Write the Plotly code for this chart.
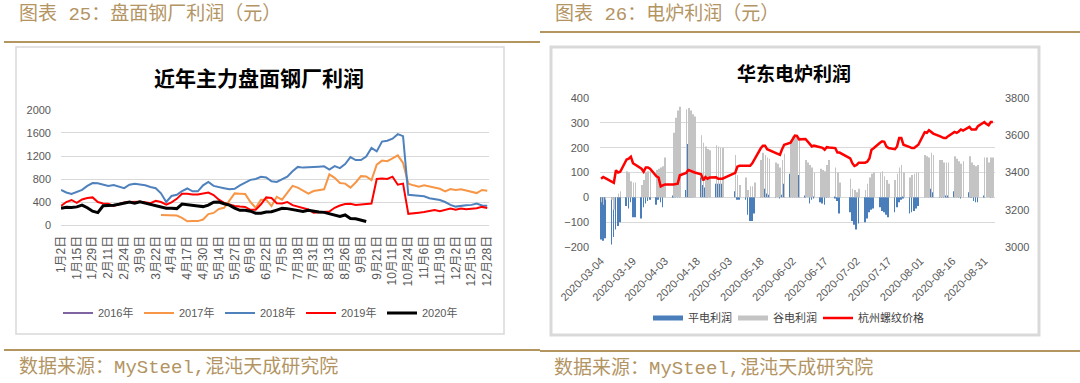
import pandas as pd
import plotly.graph_objects as go

W, H = 1080, 383


def fx(p):
    return p / W


def fy(p):
    return 1 - p / H


# ================= 图表25 盘面钢厂利润 =================
steel_tick_labels = ["1月2日", "1月15日", "1月29日", "2月11日", "2月24日", "3月9日", "3月22日",
                     "4月4日", "4月17日", "4月30日", "5月14日", "5月27日", "6月9日", "6月22日",
                     "7月5日", "7月18日", "7月31日", "8月13日", "8月26日", "9月8日", "9月21日",
                     "10月11日", "10月24日", "11月6日", "11月19日", "12月2日", "12月15日", "12月28日"]
LABEL_EVERY = 9      # trading days between two axis labels
STEP = 3             # values below are read every 3 trading days
start_2017 = 57      # 2017 series starts at this trading day

profit_2016 = [None]
profit_2017 = [174, 172, 172, 165, 125, 65, 70, 68, 95, 190,
               210, 280, 300, 420, 550, 545, 540, 400, 300, 440,
               440, 330, 490, 440, 560, 680, 650, 600, 545, 590,
               605, 620, 880, 820, 730, 720, 650, 740, 850, 845,
               780, 1050, 1120, 1110, 1160, 1210, 1080, 720, 690, 665,
               690, 670, 650, 630, 585, 625, 610, 620, 600, 575,
               555, 610, 595]
profit_2018 = [609, 565, 540, 580, 612, 680, 730, 726, 698, 680,
               695, 665, 640, 700, 718, 705, 690, 660, 640, 551,
               400, 505, 525, 590, 635, 585, 585, 690, 750, 680,
               665, 640, 620, 630, 690, 745, 785, 800, 838, 825,
               760, 750, 795, 840, 935, 1010, 998, 1000, 1010, 1015,
               1020, 965, 1025, 990, 1060, 1180, 1130, 1130, 1190, 1340,
               1280, 1450, 1465, 1500, 1580, 1545, 525, 520, 515, 500,
               465, 445, 435, 400, 350, 320, 335, 345, 350, 375,
               340, 335]
profit_2019 = [330, 400, 435, 385, 445, 470, 480, 400, 375, 372,
               330, 360, 390, 400, 405, 405, 395, 380, 420, 400,
               355, 395, 455, 545, 545, 530, 530, 550, 565, 520,
               440, 385, 355, 330, 320, 315, 265, 265, 360, 480,
               470, 380, 375, 400, 345, 320, 295, 270, 215, 220,
               230, 235, 300, 340, 365, 370, 350, 360, 365, 375,
               800, 810, 800, 840, 700, 720, 195, 210, 215, 225,
               240, 260, 240, 265, 285, 265, 285, 275, 285, 290,
               315, 295]
profit_2020 = [290, 310, 305, 315, 345, 300, 240, 215, 335, 335,
               345, 360, 385, 400, 380, 405, 380, 355, 330, 305,
               290, 290, 285, 365, 350, 335, 330, 320, 345, 395,
               400, 370, 345, 295, 255, 255, 240, 205, 205, 225,
               230, 260, 290, 285, 270, 245, 235, 255, 235, 228,
               220, 200, 170, 150, 175, 115, 110, 85, 60]

# ================= 图表26 电炉利润 =================
market_holidays = ["2020-04-06", "2020-05-01", "2020-05-04", "2020-05-05",
                   "2020-06-25", "2020-06-26"]
eaf_dates = pd.bdate_range("2020-03-04", "2020-09-04", freq="C", holidays=market_holidays)

flat_profit = [  # 平电利润
    -170, -175, -165, -190, -160, -130, -115, -100, -35, -45, -20, -80, -80, -85, -40, -25, -15, -10, -30, -10,
    -20, -40, 0, 5, 150, 215, 120, 30, 215, 170, 120, 60, 80, 50, 40, 60, 45, 55, 55, 55, 55,
    25, -10, -10, -10, -70, -95, -95, -65, 15, 35, 35, 15, 10, 5, 0, -5, 10, 55,
    95, 80, 95, 95, 90, 5, 0, -25, -10, -5, -20, -25, -30, 5, 10, -5, -15, -65, -60, -95,
    -110, -130, -105, -100, -85, -60, -50, -45, -40, -55, -60, -70, -80, -60, -40, -20, -10, -5,
    -65, -60, -55, -45, -35,
    25, 20, 15, 35, 20, 5, 5, 5, 5, 5, 25, 10, 5, -5, 0, 20, 5, -15, -20, -20, 5,
    0, 0, 5, 15]
valley_profit = [  # 谷电利润
    -20, -30, -10, -10, -50, 0, 15, 25, 105, 100, 65, 60, 60, 50, 70, 100, 105, 105, 110, 115,
    120, 125, 160, 260, 320, 350, 365, 355, 360, 350, 335, 325, 250, 220, 205, 195, 190, 210, 205, 200, 200,
    170, 90, 50, 80, 30, 45, 45, 60, 150, 180, 170, 160, 155, 140, 135, 120, 150, 175,
    230, 245, 250, 245, 240, 150, 140, 130, 120, 100, 115, 110, 105, 130, 150, 120, 100, 60, 75, 35,
    30, 20, 35, 30, 55, 80, 95, 100, 100, 105, 85, 70, 55, 70, 95, 120, 130, 100,
    80, 90, 95, 100, 100,
    170, 165, 160, 180, 170, 150, 150, 140, 140, 140, 165, 155, 145, 135, 145, 165, 140, 130, 125, 130, 160,
    160, 140, 160, 160]
rebar_price = [  # 杭州螺纹价格
    3367, 3376, 3370, 3349, 3345, 3412, 3400, 3404, 3470, 3474, 3485, 3450, 3442, 3420, 3404, 3427, 3427, 3420, 3380, 3373,
    3325, 3330, 3336, 3336, 3336, 3340, 3385, 3398, 3413, 3410, 3404, 3400, 3390, 3358, 3376, 3367, 3373, 3375, 3367, 3367, 3367,
    3398, 3431, 3436, 3436, 3436, 3436, 3449, 3470, 3530, 3544, 3544, 3525, 3520, 3504, 3500, 3495, 3525, 3549,
    3560, 3576, 3598, 3596, 3578, 3580, 3567, 3555, 3540, 3544, 3538, 3532, 3522, 3536, 3534, 3531, 3507, 3507, 3476, 3450,
    3435, 3440, 3453, 3453, 3458, 3475, 3522, 3530, 3560, 3567, 3565, 3540, 3531, 3525, 3540, 3585, 3585, 3549,
    3536, 3531, 3531, 3540, 3549,
    3616, 3613, 3627, 3618, 3609, 3595, 3590, 3585, 3585, 3595, 3618, 3613, 3620, 3631, 3625, 3645, 3631, 3631, 3631, 3649, 3671,
    3660, 3653, 3671, 3671]
eaf_tick_labels = ["2020-03-04", "2020-03-19", "2020-04-03", "2020-04-18", "2020-05-03",
                   "2020-05-18", "2020-06-02", "2020-06-17", "2020-07-02", "2020-07-17",
                   "2020-08-01", "2020-08-16", "2020-08-31"]

# ================= styles =================
GOLD_TEXT = "#B39463"
GOLD_LINE = "#B2955F"
GRID = "#D9D9D9"
BLUE_BAR = "#4A7EBB"
GREY_BAR = "#C4C4C4"
TICK_FONT = dict(family="Liberation Sans, Noto Sans CJK SC", size=11, color="#595959")
XCAT_FONT = dict(family="Liberation Sans, Noto Sans CJK SC", size=12, color="#595959")
CJK = "Noto Sans CJK SC"
HEAD_FONT = dict(family="Liberation Mono, Noto Sans CJK SC", size=19, color=GOLD_TEXT)

fig = go.Figure()


def idx_list(start, n):
    return [start + STEP * i for i in range(n)]


steel_series = [
    ("2016年", profit_2016, 0, "#8064A2", 2),
    ("2017年", profit_2017, start_2017, "#F79646", 2),
    ("2018年", profit_2018, 0, "#4F81BD", 2),
    ("2019年", profit_2019, 0, "#FF0000", 2),
    ("2020年", profit_2020, 0, "#000000", 3),
]
for name, vals, st, col, wd in steel_series:
    fig.add_trace(go.Scatter(x=idx_list(st, len(vals)), y=vals, name=name, mode="lines",
                             line=dict(color=col, width=wd), xaxis="x", yaxis="y",
                             legend="legend"))

fig.add_trace(go.Bar(x=eaf_dates, y=flat_profit, name="平电利润", marker_color=BLUE_BAR,
                     marker_line_width=0, xaxis="x2", yaxis="y2", showlegend=False))
fig.add_trace(go.Bar(x=eaf_dates, y=valley_profit, name="谷电利润", marker_color=GREY_BAR,
                     marker_line_width=0, xaxis="x2", yaxis="y2", showlegend=False))
# legend keys drawn as flat bands, like the original legend
for name, col in (("平电利润", BLUE_BAR), ("谷电利润", GREY_BAR)):
    fig.add_trace(go.Scatter(x=[None], y=[None], name=name, mode="lines",
                             line=dict(color=col, width=5), xaxis="x2", yaxis="y2",
                             legend="legend2"))
fig.add_trace(go.Scatter(x=eaf_dates, y=rebar_price, name="杭州螺纹价格", mode="lines",
                         line=dict(color="#FF0000", width=2.5), xaxis="x2", yaxis="y3",
                         legend="legend2", legendwidth=80))

n_days = STEP * (len(profit_2018) - 1) + 1
steel_tickvals = [LABEL_EVERY * i for i in range(len(steel_tick_labels))]

fig.update_layout(
    template="none",
    width=W, height=H, margin=dict(l=0, r=0, t=0, b=0, pad=0, autoexpand=False),
    paper_bgcolor="white", plot_bgcolor="white", showlegend=True,
    barmode="group", bargap=0.4, bargroupgap=0.0,
    xaxis=dict(domain=[fx(61), fx(489)], range=[0, n_days], tickmode="array",
               tickvals=steel_tickvals, ticktext=steel_tick_labels, tickangle=-90,
               tickfont=XCAT_FONT, showgrid=False, zeroline=False, showline=False,
               ticks="", ticklabelstandoff=7, anchor="y", automargin=False),
    yaxis=dict(domain=[fy(225.3), fy(109.7)], range=[-5, 2005], dtick=400, tick0=0,
               tickfont=TICK_FONT, showgrid=True, gridcolor=GRID, gridwidth=1.3,
               zeroline=True, zerolinecolor=GRID, zerolinewidth=1.3, showline=False,
               ticks="", ticklabelstandoff=9, anchor="x", automargin=False),
    xaxis2=dict(domain=[fx(600), fx(995)], type="date",
                range=["2020-03-03 12:00", "2020-09-05 00:00"], tickmode="array",
                tickvals=eaf_tick_labels, ticktext=eaf_tick_labels, tickangle=-45,
                tickfont=TICK_FONT, showgrid=False, zeroline=False, showline=False,
                ticks="", ticklabelstandoff=4, anchor="y2", automargin=False),
    yaxis2=dict(domain=[fy(247.5), fy(97.5)], range=[-202, 402], dtick=100, tick0=0,
                tickfont=TICK_FONT, showgrid=True, gridcolor=GRID, gridwidth=1.3,
                zeroline=True, zerolinecolor=GRID, zerolinewidth=1.3, showline=False,
                ticks="", ticklabelstandoff=10, anchor="x2", automargin=False),
    yaxis3=dict(domain=[fy(247.5), fy(97.5)], range=[3000 - 8 / 3, 3800 + 8 / 3], dtick=200,
                tick0=3000, overlaying="y2", side="right", tickfont=TICK_FONT, showgrid=False,
                zeroline=False, showline=False, ticks="", ticklabelstandoff=9, anchor="x2",
                automargin=False),
    legend=dict(orientation="h", x=fx(58), y=fy(313), xanchor="left", yanchor="middle",
                entrywidth=36, entrywidthmode="pixels", itemwidth=30,
                font=dict(family="Liberation Sans, Noto Sans CJK SC", size=11, color="#595959"),
                bgcolor="rgba(0,0,0,0)", traceorder="normal"),
    legend2=dict(orientation="h", x=fx(648), y=fy(318), xanchor="left", yanchor="middle",
                 entrywidth=40, entrywidthmode="pixels", itemwidth=30,
                 font=dict(family="Noto Sans CJK SC", size=11, color="#404040"),
                 bgcolor="rgba(0,0,0,0)", traceorder="normal"),
)

shapes = [
    # panel frames
    dict(type="rect", x0=fx(16), x1=fx(504), y0=fy(334), y1=fy(47),
         line=dict(color=GRID, width=1.5)),
    dict(type="rect", x0=fx(551), x1=fx(1039), y0=fy(335), y1=fy(47),
         line=dict(color=GRID, width=3)),
    # gold rules
    dict(type="line", x0=fx(4), x1=fx(540), y0=fy(42), y1=fy(42), line=dict(color=GOLD_LINE, width=2)),
    dict(type="line", x0=fx(540), x1=fx(1080), y0=fy(32), y1=fy(32), line=dict(color=GOLD_LINE, width=2)),
    dict(type="line", x0=fx(4), x1=fx(540), y0=fy(350), y1=fy(350), line=dict(color=GOLD_LINE, width=2)),
    dict(type="line", x0=fx(540), x1=fx(1080), y0=fy(351), y1=fy(351), line=dict(color=GOLD_LINE, width=2)),
]
for s in shapes:
    s.update(xref="paper", yref="paper", layer="below")
fig.update_layout(shapes=shapes)

annotations = [
    dict(x=fx(17), y=fy(15), text="图表 25：盘面钢厂利润（元）", xanchor="left", font=HEAD_FONT),
    dict(x=fx(553), y=fy(15), text="图表 26：电炉利润（元）", xanchor="left", font=HEAD_FONT),
    dict(x=fx(17), y=fy(367), text="数据来源：MySteel,混沌天成研究院", xanchor="left", font=HEAD_FONT),
    dict(x=fx(552), y=fy(368), text="数据来源：MySteel,混沌天成研究院", xanchor="left", font=HEAD_FONT),
    dict(x=fx(259), y=fy(77), text="<b>近年主力盘面钢厂利润</b>", xanchor="center",
         font=dict(family=CJK, size=21, color="#000000")),
    dict(x=fx(794), y=fy(72), text="<b>华东电炉利润</b>", xanchor="center",
         font=dict(family=CJK, size=19, color="#000000")),
]
for a in annotations:
    a.update(xref="paper", yref="paper", yanchor="middle", showarrow=False)
fig.update_layout(annotations=annotations)

fig.write_html("out.html", config={"displayModeBar": False},
               post_script="document.body.style.margin='0px';")
